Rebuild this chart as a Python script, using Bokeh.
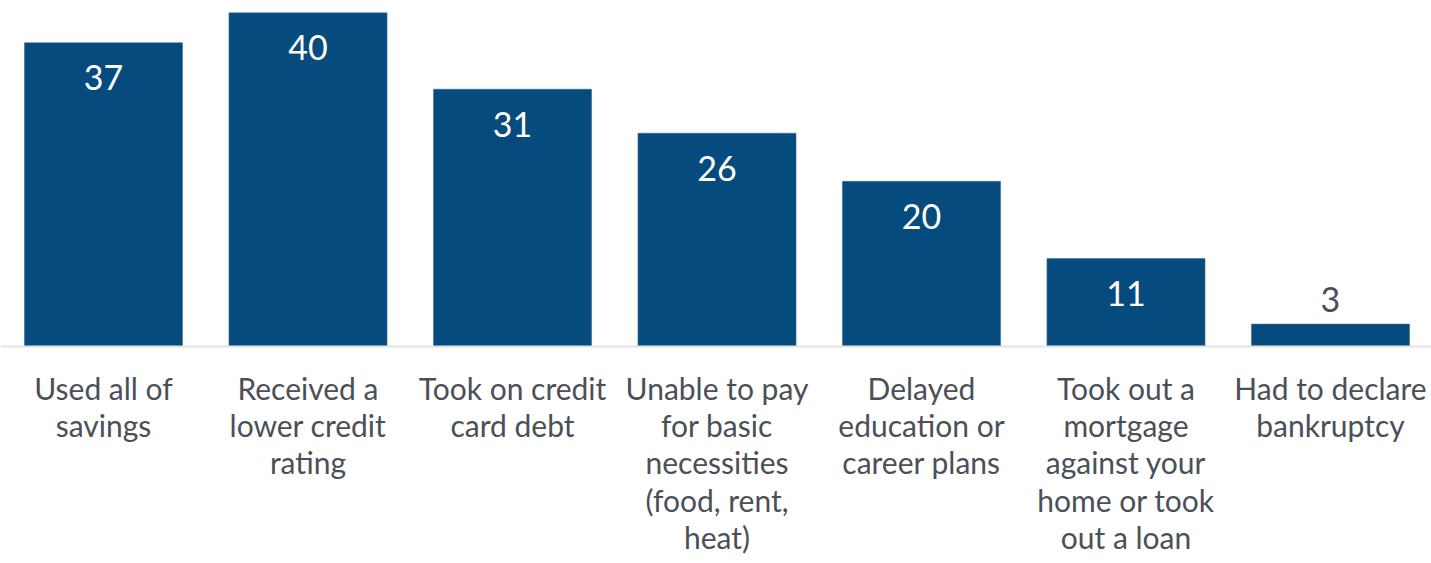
from bokeh.plotting import figure
from bokeh.models import ColumnDataSource, Range1d, Span
from bokeh.core.properties import value
from bokeh.embed import file_html
from bokeh.resources import INLINE

categories = [
    "Used all of\nsavings",
    "Received a\nlower credit\nrating",
    "Took on credit\ncard debt",
    "Unable to pay\nfor basic\nnecessities\n(food, rent,\nheat)",
    "Delayed\neducation or\ncareer plans",
    "Took out a\nmortgage\nagainst your\nhome or took\nout a loan",
    "Had to declare\nbankruptcy",
]
values = [36.6, 40.2, 31.0, 25.7, 19.9, 10.6, 2.7]
labels = [str(int(round(v))) for v in values]

BAR = "#064B7D"
TEXT = "#4B5057"

xs = list(range(len(categories)))
inside = [v >= 8 for v in values]
src_in = ColumnDataSource(dict(
    x=[x for x, i in zip(xs, inside) if i],
    y=[v for v, i in zip(values, inside) if i],
    t=[l for l, i in zip(labels, inside) if i],
))
src_out = ColumnDataSource(dict(
    x=[x for x, i in zip(xs, inside) if not i],
    y=[v for v, i in zip(values, inside) if not i],
    t=[l for l, i in zip(labels, inside) if not i],
))
src = ColumnDataSource(dict(x=xs, top=values, cat=categories))

W, H = 1431, 563
p = figure(width=W, height=H, output_backend="svg", toolbar_location=None,
           x_range=Range1d(-0.5037, 6.494), y_range=Range1d(-26.14, 41.69),
           min_border=0)
p.xaxis.visible = False
p.yaxis.visible = False
p.grid.visible = False
p.outline_line_color = None
p.background_fill_color = "white"
p.border_fill_color = "white"

p.vbar(x="x", top="top", bottom=0, width=0.773, source=src,
       fill_color=BAR, line_color="#3F6F97", line_width=0.6)

p.add_layout(Span(location=0, dimension="width", line_color="#E3E3E3", line_width=2))

p.text(x="x", y="y", text="t", source=src_in, text_color="white",
       text_font=value("Lato"), text_font_size="34px",
       text_align="center", text_baseline="middle", y_offset=35)
p.text(x="x", y="y", text="t", source=src_out, text_color=TEXT,
       text_font=value("Lato"), text_font_size="34px",
       text_align="center", text_baseline="middle", y_offset=-25)

p.text(x="x", y=0, text="cat", source=src, text_color=TEXT,
       text_font=value("Lato"), text_font_size="30px",
       text_align="center", text_baseline="top", y_offset=23,
       text_line_height=1.04)

open("out.html", "w").write(file_html(p, INLINE))
